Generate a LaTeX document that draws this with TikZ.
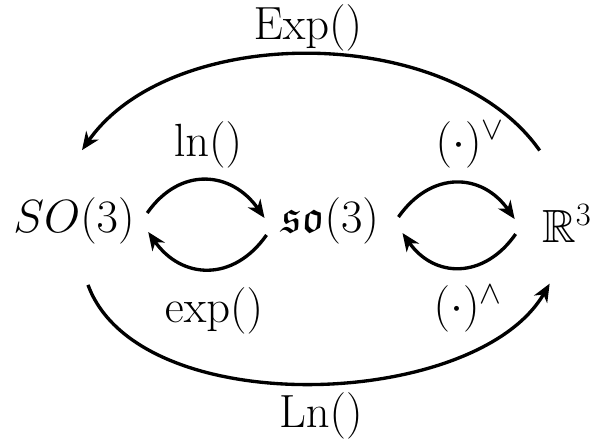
\RequirePackage{fix-cm}
\documentclass[tikz,border=0pt]{standalone}
\usepackage{amsmath,amssymb}
\usepackage{tikz}
\usetikzlibrary{arrows.meta,calc}
\newcommand{\bigtext}{\fontsize{26.5}{31}\selectfont}
\tikzset{
  space/.style={inner sep=3pt,font=\bigtext},
  lbl/.style={inner sep=0pt,font=\bigtext,anchor=base},
  map/.style={-{Stealth[length=3.6mm,width=3mm,inset=1.1mm]},line width=1.9pt,draw=black}
}

\begin{document}
\begin{tikzpicture}[x=0.02cm,y=0.02cm]
  \useasboundingbox (0,0) rectangle (595,-443);
  % the three spaces
  \node[space] (SO) at (74,-221) {$SO(3)$};
  \node[space] (so) at (330,-221) {$\mathfrak{so}(3)$};
  \node[space,anchor=base] (R) at (567,-242) {$\mathbb{R}^3$};
  % labels
  \node[lbl] (Explbl) at (308,-39) {$\mathrm{Exp}()$};
  \node[lbl] (lnlbl) at (208,-156) {$\mathrm{ln}()$};
  \node[lbl] (veelbl) at (470,-156) {$(\cdot)^\vee$};
  \node[lbl] (explbl) at (214,-322) {$\mathrm{exp}()$};
  \node[lbl] (wedgelbl) at (468,-320) {$(\cdot)^\wedge$};
  \node[lbl] (Lnlbl) at (321,-427) {$\mathrm{Ln}()$};
  % inner maps
  \draw[map] ([shift={(7,8)}]SO.east) to[out=55,in=125,looseness=1.25] ([shift={(-11,3)}]so.west);
  \draw[map] ([shift={(-9,-14)}]so.west) to[out=-125,in=-55,looseness=1.25] ([shift={(8,-11)}]SO.east);
  \draw[map] ([shift={(14,4)}]so.east) to[out=55,in=125,looseness=1.25] ([shift={(-22,4)}]R.west);
  \draw[map] ([shift={(-21,-11)}]R.west) to[out=-125,in=-55,looseness=1.25] ([shift={(18,-12)}]so.east);
  % outer maps
  \draw[map] ([shift={(3,48)}]R.north west) to[out=125,in=55,looseness=0.875] ([shift={(8,42)}]SO.north);
  \draw[map] ([shift={(14,-35)}]SO.south) to[out=-70,in=-120,looseness=0.81] ([shift={(13,-36)}]R.south west);
\end{tikzpicture}
\end{document}
